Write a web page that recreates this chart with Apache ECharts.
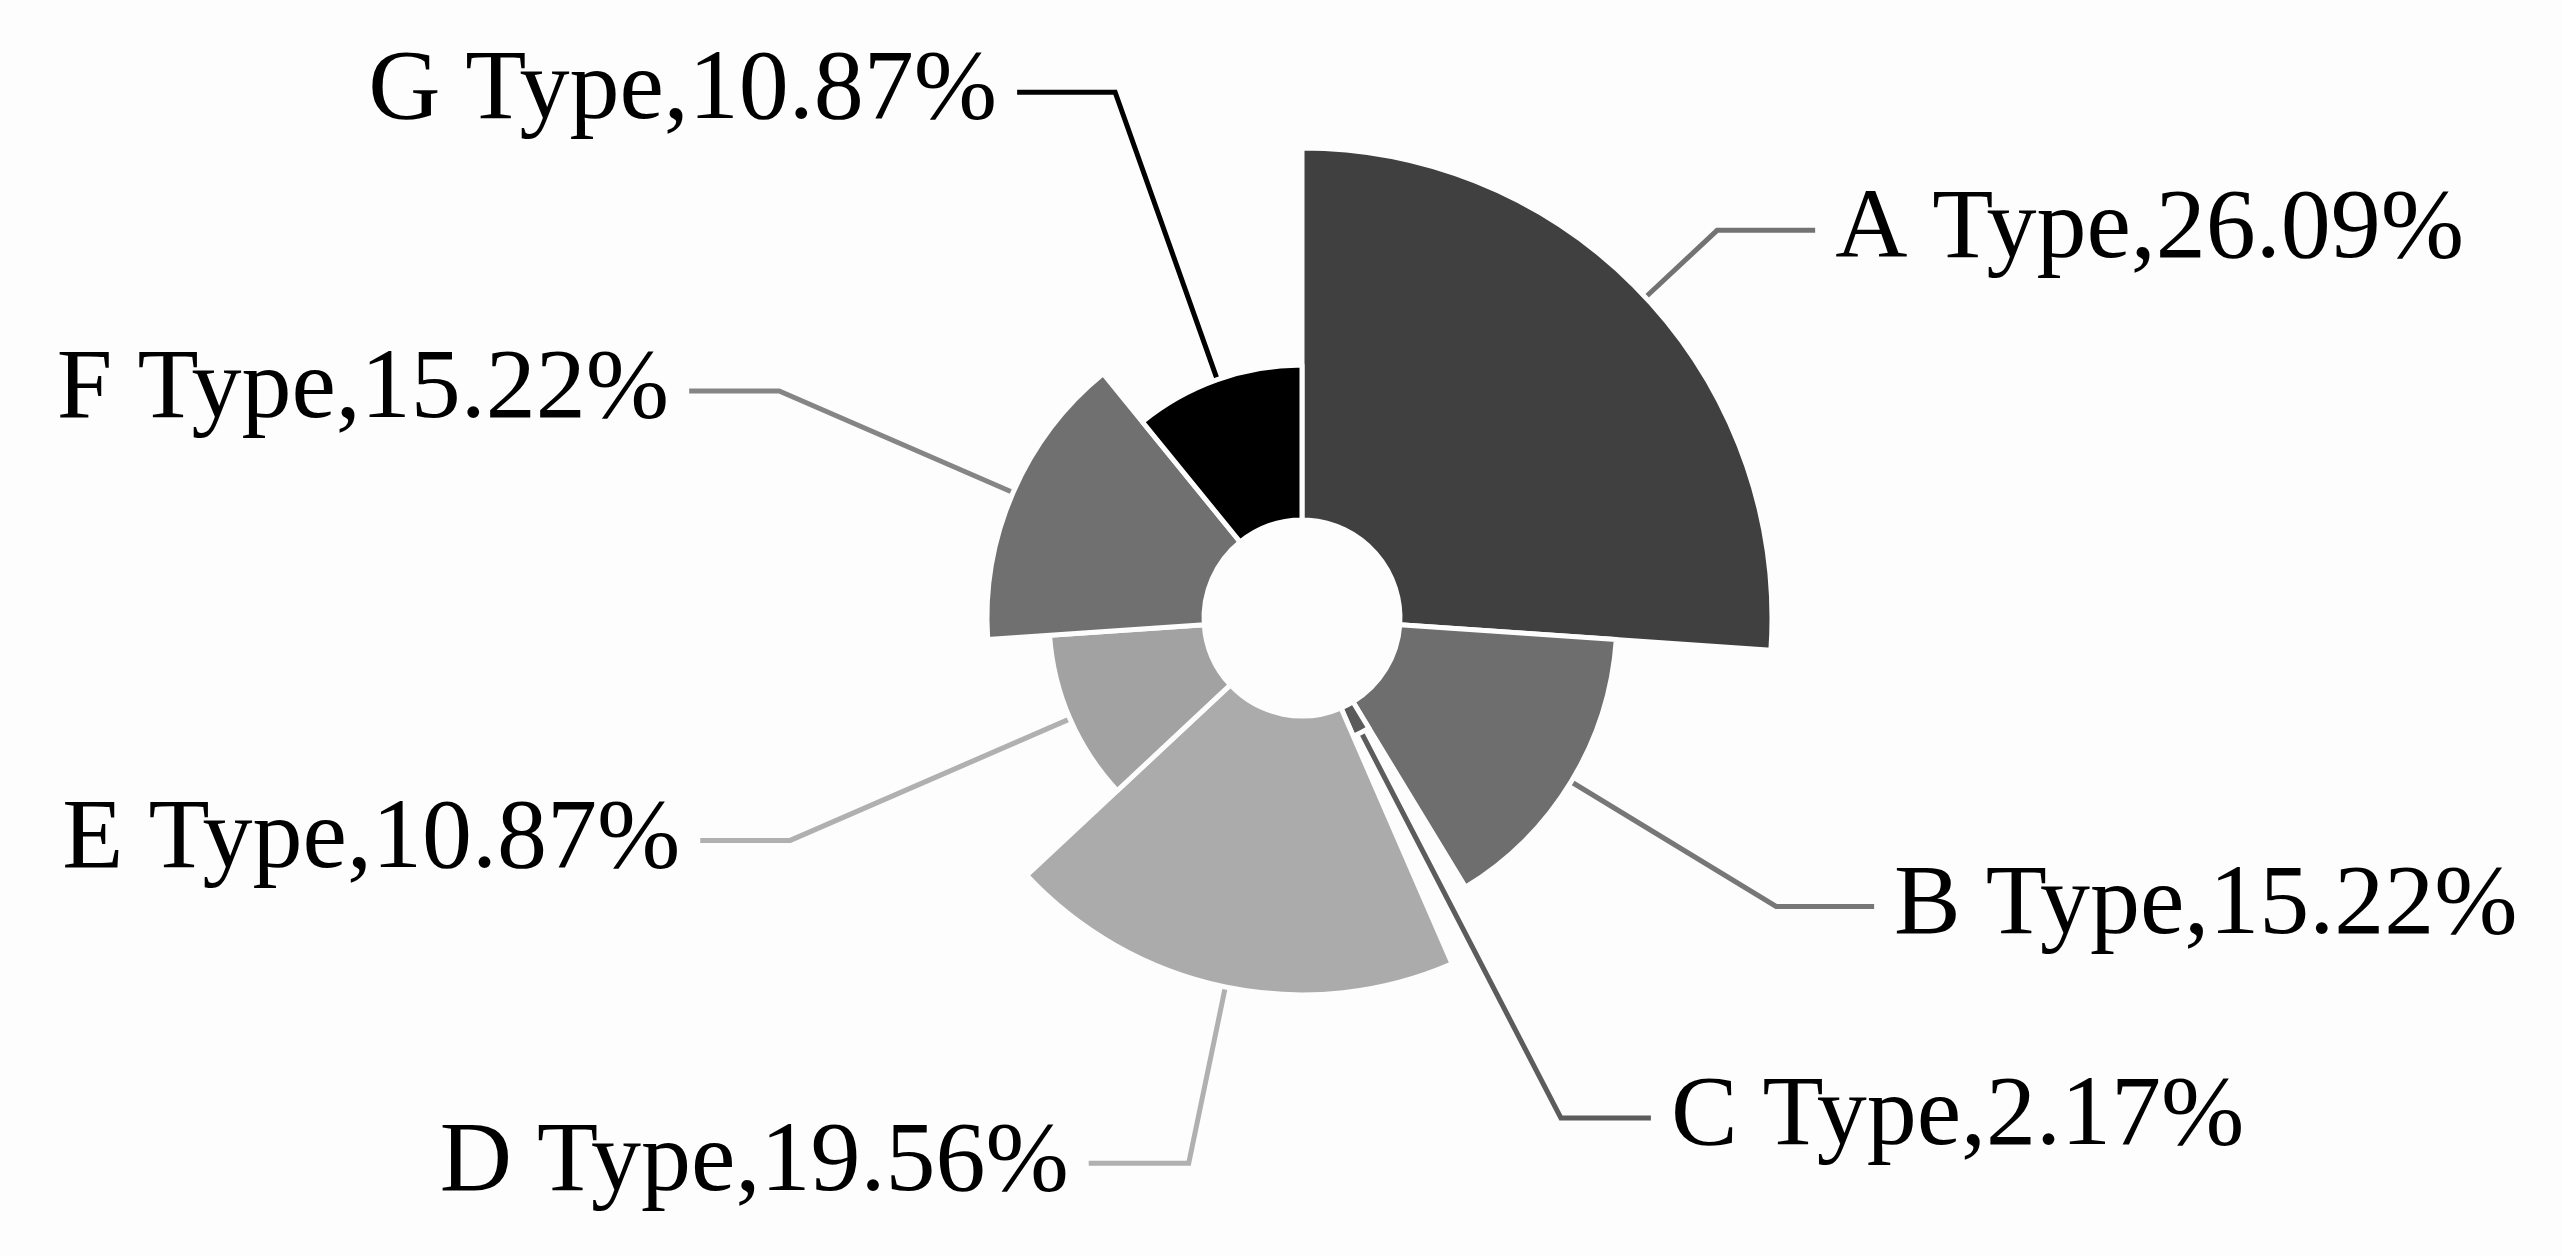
<!DOCTYPE html>
<html>
<head>
<meta charset="utf-8">
<title>Type share</title>
<script src="https://cdn.jsdelivr.net/npm/echarts@6/dist/echarts.min.js"></script>
<style>
	html, body {margin: 0; padding: 0; background: #fdfdfd;}
	#main {width: 2562px; height: 1256px;}
</style>
</head>
<body>
<div id="main"></div>
<script>
	var categories = ['A Type', 'B Type', 'C Type', 'D Type', 'E Type', 'F Type', 'G Type'];
	var shares = [26.09, 15.22, 2.17, 19.56, 10.87, 15.22, 10.87];

	// 扇区和引导线颜色
	var fillColors = ['#404040', '#6e6e6e', '#5a5a5a', '#ababab', '#a2a2a2', '#707070', '#000000'];
	var lineColors = ['#737373', '#777777', '#5c5c5c', '#b0b0b0', '#b0b0b0', '#858585', '#000000'];
	var lineLen = [98, 85, 93, 87, 88, 100, 88];
	var lineLen2 = [98, 98, 90, 100, 90, 90, 98];

	var data = [];
	for (var i = 0; i < categories.length; i++) {
		data.push({
			name: categories[i],
			value: shares[i],
			itemStyle: {color: fillColors[i]},
			labelLine: {
				length: lineLen[i],
				length2: lineLen2[i],
				lineStyle: {color: lineColors[i], width: 5}
			}
		});
	}

	var option = {
		backgroundColor: '#fdfdfd',
		animation: false,
		series: [
			{
				type: 'pie',
				roseType: 'radius',
				center: [1302, 618],
				radius: [98, 470],
				startAngle: 90,
				clockwise: true,
				avoidLabelOverlap: false,
				itemStyle: {borderColor: '#fdfdfd', borderWidth: 5},
				label: {
					show: true,
					formatter: '{b},{c}%',
					fontFamily: '"Liberation Serif", "DejaVu Serif", serif',
					fontSize: 100,
					color: '#000',
					distanceToLabelLine: 20
				},
				labelLine: {show: true, smooth: false},
				emphasis: {disabled: true},
				data: data
			}
		]
	};

	echarts.init(document.getElementById('main')).setOption(option);
</script>
</body>
</html>
